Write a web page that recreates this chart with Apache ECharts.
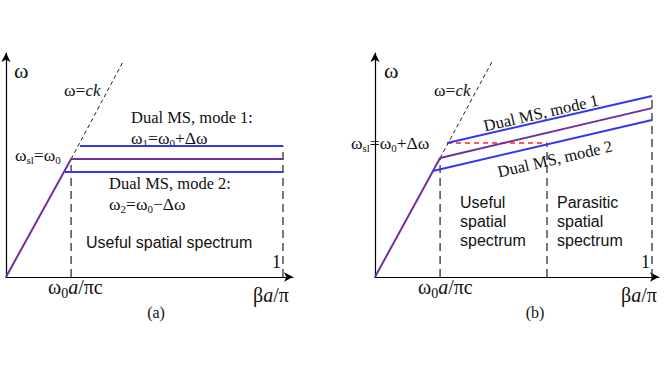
<!DOCTYPE html>
<html><head><meta charset="utf-8">
<script src="https://cdn.jsdelivr.net/npm/echarts@6/dist/echarts.min.js"></script>
<style>html,body{margin:0;padding:0;background:#fff}#c{width:664px;height:374px}</style>
</head><body><div id="c"></div>
<script>
// Panel (a): flat dispersion branches (x = βa/π, y = normalised ω)
const aCenter = [[0, 0], [0.235, 0.527], [1, 0.527]];
const aMode1 = [[0.267, 0.585], [1, 0.585]];
const aMode2 = [[0.213, 0.469], [1, 0.469]];
const aLight = [[0.235, 0.527], [0.422, 0.960]];
const aCut1 = [[0.235, 0], [0.235, 0.527]];
const aCut2 = [[1, 0], [1, 0.585]];
// Panel (b): sloped branches
const bCenter = [[0, 0], [0.235, 0.531], [1, 0.754]];
const bMode1 = [[0.26, 0.598], [1, 0.808]];
const bMode2 = [[0.209, 0.473], [1, 0.701]];
const bLight = [[0.235, 0.531], [0.422, 0.960]];
const bLevel = [[0.26, 0.598], [0.621, 0.598]];
const bCut1 = [[0.235, 0], [0.235, 0.531]];
const bCut2 = [[0.621, 0], [0.621, 0.598]];
const bCut3 = [[1, 0], [1, 0.808]];

const SERIF = '"Liberation Serif"';
const SANS = '"Liberation Sans"';
const BLUE = '#3535f5', PURPLE = '#7030a0';

const chart = echarts.init(document.getElementById('c'), null, {renderer: 'svg'});

function axis(max, gi) {
  return {
    type: 'value', gridIndex: gi, min: 0, max: max,
    axisLine: {show: true, onZero: false, symbol: ['none', 'arrow'], symbolSize: [7, 9], lineStyle: {color: '#000', width: 1.2}},
    axisTick: {show: false}, axisLabel: {show: false}, splitLine: {show: false}
  };
}
function ln(data, gi, color, width, type) {
  return {
    type: 'line', xAxisIndex: gi, yAxisIndex: gi, data: data, showSymbol: false, symbol: 'none',
    silent: true, animation: false, clip: false,
    lineStyle: {color: color, width: width, type: type || 'solid'}
  };
}
const rich = {
  s: {font: '17.5px ' + SERIF, lineHeight: 20, fill: '#111'},
  i: {font: 'italic 17px ' + SERIF, lineHeight: 20, fill: '#111'},
  b: {font: '20px ' + SERIF, lineHeight: 26, fill: '#111'},
  bi: {font: 'italic 20px ' + SERIF, lineHeight: 26, fill: '#111'},
  sub: {font: '11px ' + SERIF, lineHeight: 11, verticalAlign: 'bottom', fill: '#111'},
  bsub: {font: '14px ' + SERIF, lineHeight: 14, verticalAlign: 'bottom', fill: '#111'}
};
function txt(x, y, text) {
  return {
    type: 'text', x: x, y: y, silent: true,
    style: {text: text, rich: rich, font: '17px ' + SERIF, fill: '#111', verticalAlign: 'middle', align: 'left'}
  };
}
function plain(x, y, text, font, opts) {
  return {
    type: 'text', x: x, y: y, silent: true, rotation: (opts && opts.rotation) || 0,
    style: {text: text, font: font, fill: '#111', align: (opts && opts.align) || 'left', verticalAlign: 'middle', lineHeight: (opts && opts.lineHeight) || undefined}
  };
}

chart.setOption({
  animation: false,
  grid: [
    {left: 6, top: 53, width: 287, height: 224},
    {left: 375, top: 53, width: 284, height: 224}
  ],
  xAxis: [axis(287 / 277, 0), axis(284 / 277, 1)],
  yAxis: [axis(1, 0), axis(1, 1)],
  series: [
    ln(aLight, 0, '#222', 1, [4, 3]),
    ln(aCut1, 0, '#333', 1.3, [8, 5]),
    ln(aCut2, 0, '#333', 1.3, [8, 5]),
    ln(aCenter, 0, PURPLE, 2),
    ln(aMode1, 0, BLUE, 2),
    ln(aMode2, 0, BLUE, 2),
    ln(bLight, 1, '#222', 1, [4, 3]),
    ln(bCut1, 1, '#333', 1.3, [8, 5]),
    ln(bCut2, 1, '#333', 1.3, [8, 5]),
    ln(bCut3, 1, '#333', 1.3, [8, 5]),
    ln(bLevel, 1, '#ff2020', 1.5, [5, 4]),
    ln(bCenter, 1, PURPLE, 2),
    ln(bMode1, 1, BLUE, 2),
    ln(bMode2, 1, BLUE, 2)
  ],
  graphic: [
    // panel (a)
    plain(14, 70, 'ω', '22px ' + SERIF),
    txt(64, 90, '{s|ω=}{i|ck}'),
    plain(131, 117, 'Dual MS, mode 1:', '16.5px ' + SERIF),
    txt(131, 138, '{s|ω}{sub|1}{s|=ω}{sub|0}{s|+Δω}'),
    txt(15, 155, '{s|ω}{sub|sl}{s|=ω}{sub|0}'),
    plain(109, 183, 'Dual MS, mode 2:', '16.5px ' + SERIF),
    txt(109, 204, '{s|ω}{sub|2}{s|=ω}{sub|0}{s|−Δω}'),
    plain(86, 242, 'Useful spatial spectrum', '16px ' + SANS),
    plain(272, 262, '1', '18px ' + SERIF),
    txt(48, 287, '{b|ω}{bsub|0}{bi|a}{b|/πc}'),
    txt(253, 295, '{b|β}{bi|a}{b|/π}'),
    plain(156, 312, '(a)', '16px ' + SERIF, {align: 'center'}),
    // panel (b)
    plain(384, 70, 'ω', '22px ' + SERIF),
    txt(434, 90, '{s|ω=}{i|ck}'),
    txt(351, 143, '{s|ω}{sub|sl}{s|=ω}{sub|0}{s|+Δω}'),
    plain(541, 113, 'Dual MS, mode 1', '16.5px ' + SERIF, {align: 'center', rotation: 0.226}),
    plain(555, 159, 'Dual MS, mode 2', '16.5px ' + SERIF, {align: 'center', rotation: 0.226}),
    plain(460, 221, 'Useful\nspatial\nspectrum', '16px ' + SANS, {lineHeight: 19}),
    plain(557, 221, 'Parasitic\nspatial\nspectrum', '16px ' + SANS, {lineHeight: 19}),
    plain(641, 262, '1', '18px ' + SERIF),
    txt(418, 287, '{b|ω}{bsub|0}{bi|a}{b|/πc}'),
    txt(621, 295, '{b|β}{bi|a}{b|/π}'),
    plain(535, 312, '(b)', '16px ' + SERIF, {align: 'center'})
  ]
});
</script></body></html>
